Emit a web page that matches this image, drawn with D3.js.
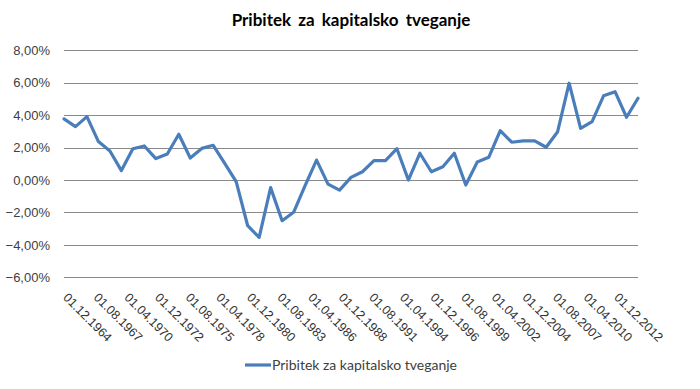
<!DOCTYPE html>
<html>
<head>
<meta charset="utf-8">
<title>Pribitek za kapitalsko tveganje</title>
<script src="https://cdn.jsdelivr.net/npm/d3@7"></script>
<style>
  html, body { margin: 0; padding: 0; background: #fff; }
  svg { display: block; font-family: Lato, "Open Sans", sans-serif; }
</style>
</head>
<body>
<svg class="js-graph"></svg>
<script>
/* <DATASET> */
var seriesName = 'Pribitek za kapitalsko tveganje';

// one value per year, always on 1 December
var years = [
  1964, 1965, 1966, 1967, 1968, 1969, 1970, 1971, 1972, 1973,
  1974, 1975, 1976, 1977, 1978, 1979, 1980, 1981, 1982, 1983,
  1984, 1985, 1986, 1987, 1988, 1989, 1990, 1991, 1992, 1993,
  1994, 1995, 1996, 1997, 1998, 1999, 2000, 2001, 2002, 2003,
  2004, 2005, 2006, 2007, 2008, 2009, 2010, 2011, 2012, 2013,
  2014
];

// premium in %
var premium = [
  3.77, 3.29, 3.91, 2.37, 1.79, 0.58, 1.93, 2.10, 1.32, 1.60,
  2.82, 1.36, 1.95, 2.14, 1.03, -0.10, -2.82, -3.54, -0.47, -2.51,
  -1.99, -0.35, 1.23, -0.25, -0.62, 0.16, 0.51, 1.19, 1.19, 1.93,
  0.00, 1.65, 0.51, 0.82, 1.65, -0.31, 1.11, 1.40, 3.04, 2.33,
  2.41, 2.41, 2.02, 2.98, 5.97, 3.19, 3.60, 5.19, 5.45, 3.87,
  5.04
];

var xTickLabels = [
  '01.12.1964', '01.08.1967', '01.04.1970', '01.12.1972', '01.08.1975',
  '01.04.1978', '01.12.1980', '01.08.1983', '01.04.1986', '01.12.1988',
  '01.08.1991', '01.04.1994', '01.12.1996', '01.08.1999', '01.04.2002',
  '01.12.2004', '01.08.2007', '01.04.2010', '01.12.2012'
];

var yTicks = [-6, -4, -2, 0, 2, 4, 6, 8];
/* </DATASET> */

(function drawChart(d3) {
  var width = 700;
  var height = 389;
  var plot = { left: 64, right: 638, top: 50.3, bottom: 277.3 };

  var parseDate = d3.timeParse('%d.%m.%Y');
  var points = years.map(function (y, i) {
    return { date: new Date(y, 11, 1), value: premium[i] };
  });

  var svg = d3.select('.js-graph')
    .attr('width', width)
    .attr('height', height);

  var x = d3.scaleTime()
    .domain(d3.extent(points, function (d) { return d.date; }))
    .range([plot.left, plot.right]);

  var y = d3.scaleLinear()
    .domain([d3.min(yTicks), d3.max(yTicks)])
    .range([plot.bottom, plot.top]);

  // GRIDLINES + Y LABELS
  var yAxis = svg.append('g')
    .attr('class', 'y-axis')
    .attr('transform', 'translate(' + plot.left + ',0)')
    .call(d3.axisLeft(y)
      .tickValues(yTicks)
      .tickSize(-(plot.right - plot.left))
      .tickPadding(14)
      .tickFormat(function (d) { return d3.format('.2f')(d).replace('.', ',') + '%'; }));

  yAxis.select('.domain').remove();
  yAxis.selectAll('.tick line')
    .attr('stroke', '#8a8a8a')
    .attr('shape-rendering', 'crispEdges');
  yAxis.selectAll('.tick text')
    .attr('fill', '#404040')
    .style('font-size', '13px');

  // X LABELS (rotated, no tick marks)
  var xAxis = svg.append('g')
    .attr('class', 'x-axis')
    .attr('transform', 'translate(0,' + plot.bottom + ')')
    .call(d3.axisBottom(x)
      .tickValues(xTickLabels.map(parseDate))
      .tickSize(0)
      .tickFormat(d3.timeFormat('%d.%m.%Y')));

  xAxis.select('.domain').remove();
  xAxis.selectAll('.tick text')
    .attr('fill', '#333')
    .attr('text-anchor', 'start')
    .attr('dy', null)
    .attr('y', 0)
    .attr('transform', 'translate(-2,21) rotate(45)')
    .style('font-size', '12.5px');

  // SERIES LINE
  var line = d3.line()
    .x(function (d) { return x(d.date); })
    .y(function (d) { return y(d.value); });

  svg.append('path')
    .datum(points)
    .attr('d', line)
    .attr('fill', 'none')
    .attr('stroke', '#4a7ebb')
    .attr('stroke-width', 3.2)
    .attr('stroke-linejoin', 'round')
    .attr('stroke-linecap', 'round');

  // TITLE
  svg.append('text')
    .attr('x', 351)
    .attr('y', 26)
    .attr('text-anchor', 'middle')
    .attr('fill', '#000')
    .style('font-size', '17px')
    .style('font-weight', 'bold')
    .style('word-spacing', '3px')
    .text(seriesName);

  // LEGEND
  var legend = svg.append('g')
    .attr('transform', 'translate(245,365)');
  legend.append('line')
    .attr('x1', 0).attr('x2', 26)
    .attr('y1', 0).attr('y2', 0)
    .attr('stroke', '#4a7ebb')
    .attr('stroke-width', 3.2);
  legend.append('text')
    .attr('x', 27)
    .attr('y', 0)
    .attr('dy', '0.35em')
    .attr('fill', '#404040')
    .style('font-size', '14px')
    .text(seriesName);
}(d3));
</script>
</body>
</html>
